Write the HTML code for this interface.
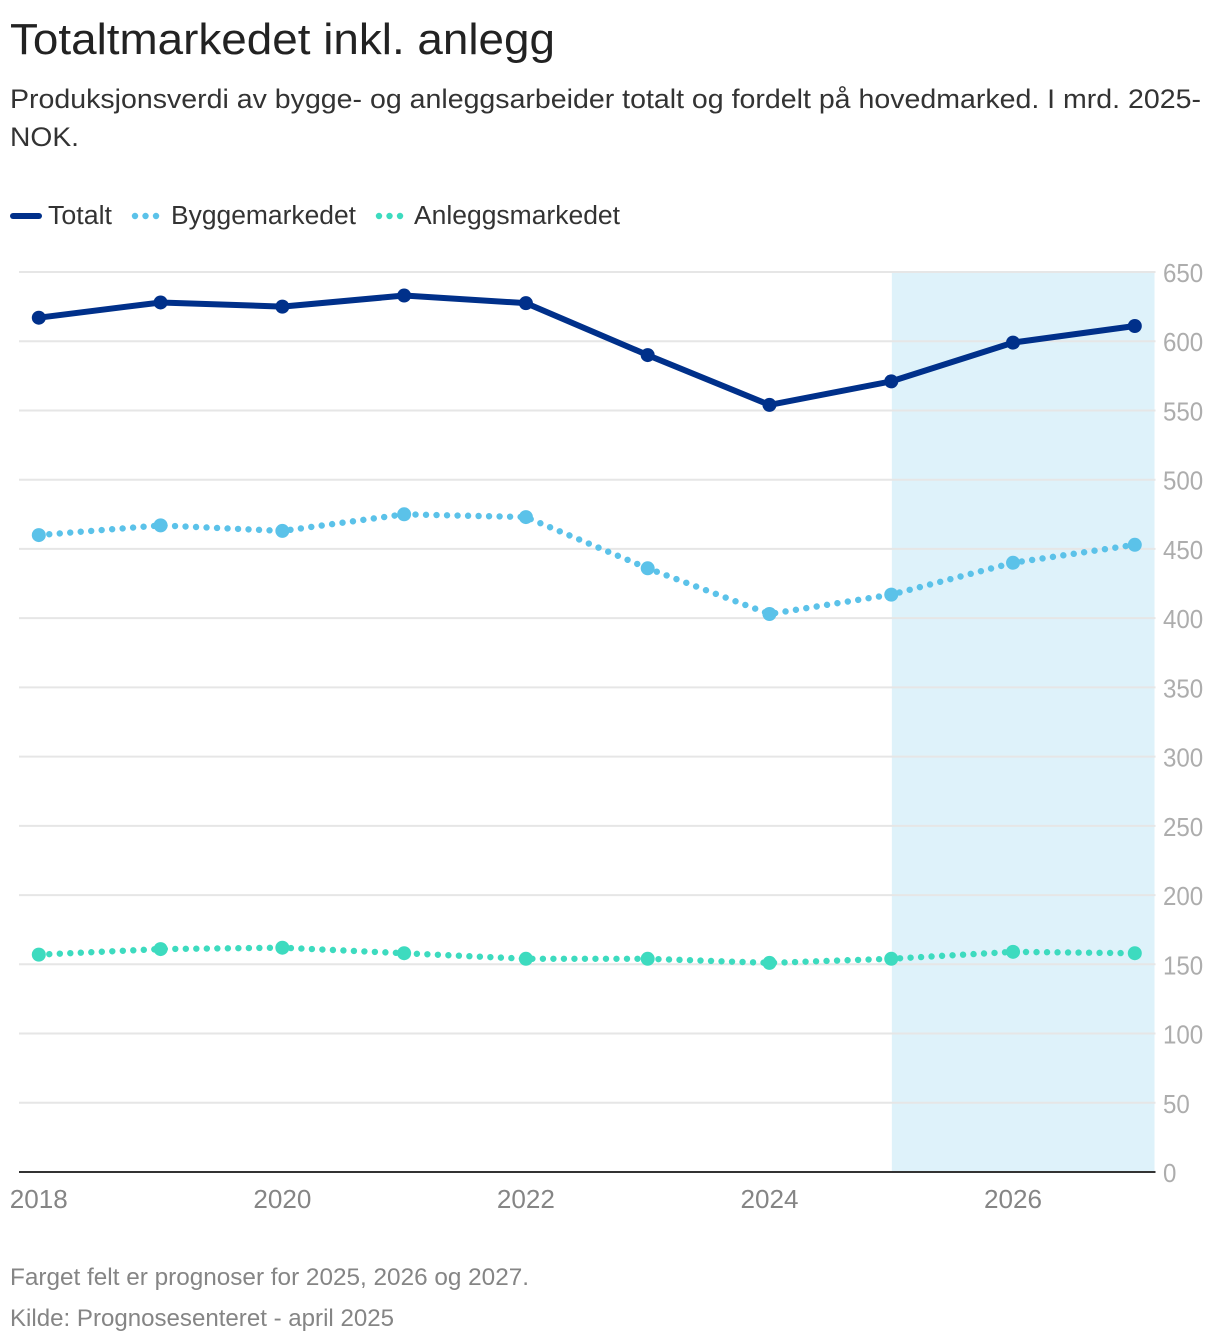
<!DOCTYPE html>
<html lang="no">
<head>
<meta charset="utf-8">
<title>Totaltmarkedet inkl. anlegg</title>
<style>
html,body{margin:0;padding:0;background:#fff;width:1220px;height:1344px;overflow:hidden}
svg{display:block}
text{font-family:"Liberation Sans",sans-serif}
</style>
</head>
<body>
<svg id="chart" xmlns="http://www.w3.org/2000/svg" width="1220" height="1344" viewBox="0 0 1220 1344">
  <text x="10" y="54" font-size="43.5" fill="#222" textLength="545" lengthAdjust="spacingAndGlyphs">Totaltmarkedet inkl. anlegg</text>
  <text x="10" y="108" font-size="26.5" fill="#333" textLength="1191" lengthAdjust="spacingAndGlyphs">Produksjonsverdi av bygge- og anleggsarbeider totalt og fordelt på hovedmarked. I mrd. 2025-</text>
  <text x="10" y="146" font-size="26.5" fill="#333" textLength="69" lengthAdjust="spacingAndGlyphs">NOK.</text>

  <g>
    <g>
      <line x1="13" y1="216" x2="39" y2="216" stroke="#00308a" stroke-width="6" stroke-linecap="round"/>
      <text x="48" y="224" font-size="25.5" fill="#333" textLength="64" lengthAdjust="spacingAndGlyphs">Totalt</text>
    </g>
    <g>
      <line x1="135" y1="216" x2="157" y2="216" stroke="#5bc2e9" stroke-width="6.4" stroke-linecap="round" stroke-dasharray="0.01 10.5"/>
      <text x="171" y="224" font-size="25.5" fill="#333" textLength="185" lengthAdjust="spacingAndGlyphs">Byggemarkedet</text>
    </g>
    <g>
      <line x1="379" y1="216" x2="401" y2="216" stroke="#3ddbbf" stroke-width="6.4" stroke-linecap="round" stroke-dasharray="0.01 10.5"/>
      <text x="414" y="224" font-size="25.5" fill="#333" textLength="206" lengthAdjust="spacingAndGlyphs">Anleggsmarkedet</text>
    </g>
  </g>

  <rect id="forecast" fill="#def2fa"/>
  <g id="grid"></g>
  <g id="yticks"></g>
  <line id="baseline" stroke="#333" stroke-width="2"/>
  <g id="xticks"></g>
  <g id="series"></g>

  <text x="10" y="1285" font-size="24" fill="#858585" textLength="519" lengthAdjust="spacingAndGlyphs">Farget felt er prognoser for 2025, 2026 og 2027.</text>
  <text x="10" y="1326" font-size="24" fill="#858585" textLength="384" lengthAdjust="spacingAndGlyphs">Kilde: Prognosesenteret - april 2025</text>
</svg>
<script>
const years = [2018, 2019, 2020, 2021, 2022, 2023, 2024, 2025, 2026, 2027];
const totalt = [617, 628, 625, 633, 627.5, 590, 554, 571, 599, 611];
const byggemarkedet = [460, 467, 463, 475, 473, 436, 403, 417, 440, 453];
const anleggsmarkedet = [157, 161, 162, 158, 154, 154, 151, 154, 159, 158];
const yTickValues = [0, 50, 100, 150, 200, 250, 300, 350, 400, 450, 500, 550, 600, 650];
const xTickLabels = [2018, 2020, 2022, 2024, 2026];
const forecastStartYear = 2025;

const NS = 'http://www.w3.org/2000/svg';
const plotLeft = 19, plotRight = 1154.5, plotTop = 272, plotBottom = 1172;
function xScale(year) { return 38.8 + (year - 2018) * (1134.8 - 38.8) / 9; }
function yScale(value) { return plotBottom - value * (plotBottom - plotTop) / 650; }
function make(tag, attrs) {
  const el = document.createElementNS(NS, tag);
  for (const k in attrs) el.setAttribute(k, attrs[k]);
  return el;
}

const band = document.getElementById('forecast');
const bandX = xScale(forecastStartYear) + 0.6;
band.setAttribute('x', bandX);
band.setAttribute('y', plotTop);
band.setAttribute('width', plotRight - bandX);
band.setAttribute('height', plotBottom - plotTop);

const base = document.getElementById('baseline');
base.setAttribute('x1', plotLeft);
base.setAttribute('x2', plotRight + 1);
base.setAttribute('y1', plotBottom);
base.setAttribute('y2', plotBottom);

const gridG = document.getElementById('grid');
const yG = document.getElementById('yticks');
yTickValues.forEach(function (v) {
  if (v !== 0) {
    const ln = make('line', { x1: plotLeft, x2: plotRight + 1, y1: yScale(v), y2: yScale(v), stroke: '#e6e6e6', 'stroke-width': 2 });
    
    
    gridG.appendChild(ln);
  }
  const label = String(v);
  const t = make('text', { x: 1163, y: yScale(v) + 10, 'font-size': 25.5, fill: '#adadad', textLength: label.length * 13.4, lengthAdjust: 'spacingAndGlyphs' });
  
  
  t.textContent = label;
  yG.appendChild(t);
});

const xG = document.getElementById('xticks');
xTickLabels.forEach(function (yr) {
  const t = make('text', { x: xScale(yr), y: 1208, 'font-size': 26, fill: '#858585', 'text-anchor': 'middle', textLength: 58, lengthAdjust: 'spacingAndGlyphs' });
  
  
  t.textContent = yr;
  xG.appendChild(t);
});

const seriesG = document.getElementById('series');
function drawSeries(values, name, color, width, dash) {
  const g = make('g', {});
  
  
  const pts = values.map(function (v, i) { return xScale(years[i]) + ',' + yScale(v); }).join(' ');
  const line = make('polyline', { points: pts, fill: 'none', stroke: color, 'stroke-width': width, 'stroke-linecap': 'round', 'stroke-linejoin': 'round' });
  if (dash) line.setAttribute('stroke-dasharray', dash);
  
  
  g.appendChild(line);
  values.forEach(function (v, i) {
    const c = make('circle', { cx: xScale(years[i]), cy: yScale(v), r: 7, fill: color });
    
    
    g.appendChild(c);
  });
  seriesG.appendChild(g);
}
drawSeries(anleggsmarkedet, 'anleggsmarkedet', '#3ddbbf', 6.4, '0.01 10.5');
drawSeries(byggemarkedet, 'byggemarkedet', '#5bc2e9', 6.4, '0.01 10.5');
drawSeries(totalt, 'totalt', '#00308a', 6, null);
</script>
</body>
</html>
